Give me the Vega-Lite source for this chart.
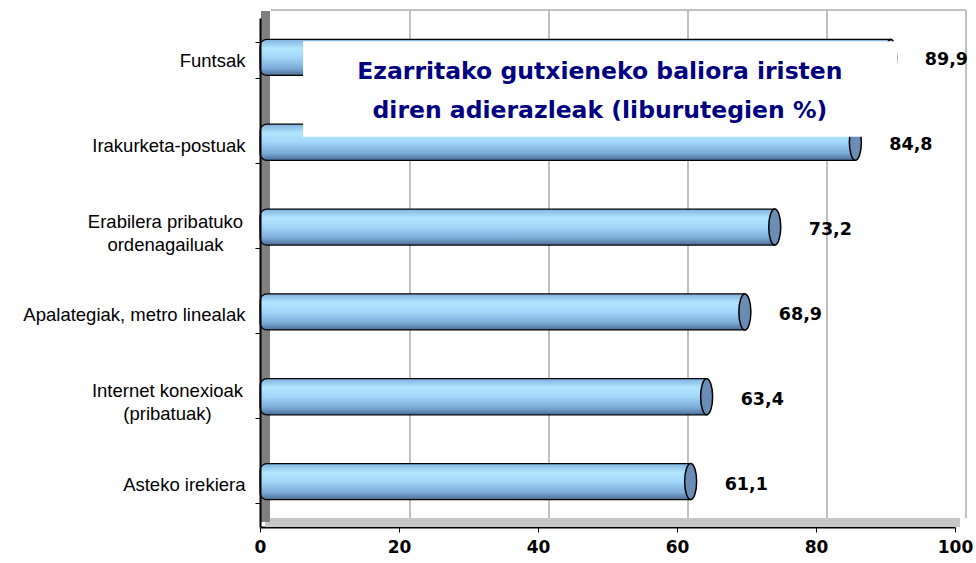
{
  "$schema": "https://vega.github.io/schema/vega-lite/v6.json",
  "width": 695,
  "height": 509,
  "autosize": {"type": "none"},
  "padding": {"left": 260, "top": 18, "right": 21, "bottom": 36},
  "background": "white",
  "config": {
    "view": {"stroke": null},
    "locale": {"number": {"decimal": ",", "thousands": ".", "grouping": [3], "currency": ["", "€"]}},
    "axisX": {
      "title": null,
      "tickCount": 5,
      "labelFont": "DejaVu Sans",
      "labelFontWeight": "bold",
      "labelFontSize": 17,
      "labelColor": "black",
      "labelPadding": 7,
      "labelFlush": false,
      "labelOverlap": false,
      "tickSize": 5,
      "tickColor": "black",
      "domainColor": "black",
      "domainWidth": 2,
      "grid": false,
      "zindex": 1
    }
  },
  "resolve": {"scale": {"y": "independent"}, "axis": {"y": "independent"}},
  "layer": [
    {
      "layer": [
        {
          "data": {"values": [{}]},
          "mark": {"type": "rect", "fill": "#c6c6c6", "xOffset": 5, "x2Offset": 5, "y2Offset": -9},
          "encoding": {
            "x": {"datum": 0, "type": "quantitative", "scale": {"domain": [0, 100], "nice": false}},
            "x2": {"datum": 100},
            "y": {"datum": 0, "type": "quantitative", "scale": {"domain": [0, 6], "nice": false}, "axis": null},
            "y2": {"datum": 0}
          }
        },
        {
          "data": {"values": [{"g": 20}, {"g": 40}, {"g": 60}, {"g": 80}, {"g": 100}]},
          "mark": {"type": "rule", "color": "#c0c0c0", "strokeWidth": 2, "xOffset": 11, "yOffset": -9, "y2Offset": -8},
          "encoding": {
            "x": {"field": "g", "type": "quantitative"},
            "y": {"datum": 0, "type": "quantitative", "axis": null},
            "y2": {"datum": 6}
          }
        },
        {
          "data": {"values": [{}]},
          "mark": {"type": "rule", "color": "#c0c0c0", "strokeWidth": 2, "xOffset": 11, "x2Offset": 11, "yOffset": -8},
          "encoding": {
            "x": {"datum": 0, "type": "quantitative"},
            "x2": {"datum": 100},
            "y": {"datum": 6, "type": "quantitative", "axis": null}
          }
        },
        {
          "data": {"values": [{}]},
          "mark": {"type": "rect", "fill": "#7f7f7f", "xOffset": 1, "x2Offset": 10, "yOffset": -7, "y2Offset": -5},
          "encoding": {
            "x": {"datum": 0, "type": "quantitative"},
            "x2": {"datum": 0},
            "y": {"datum": 6, "type": "quantitative", "axis": null},
            "y2": {"datum": 0}
          }
        }
      ]
    },
    {
      "data": {
        "values": [
          {"cat": "Funtsak", "v": 89.9},
          {"cat": "Irakurketa-postuak", "v": 84.8},
          {"cat": "Erabilera pribatuko ordenagailuak", "v": 73.2},
          {"cat": "Apalategiak, metro linealak", "v": 68.9},
          {"cat": "Internet konexioak (pribatuak)", "v": 63.4},
          {"cat": "Asteko irekiera", "v": 61.1}
        ]
      },
      "encoding": {
        "y": {
          "field": "cat",
          "type": "nominal",
          "sort": null,
          "scale": {"paddingInner": 0.575, "paddingOuter": 0.2875},
          "axis": {
            "title": null,
            "labelFont": "Liberation Sans",
            "labelFontSize": 18.5,
            "labelColor": "black",
            "labelLimit": 300,
            "labelLineHeight": 23,
            "labelPadding": 10,
            "labelAlign": {"condition": {"test": "indexof(['Erabilera pribatuko ordenagailuak', 'Internet konexioak (pribatuak)'], datum.value) >= 0", "value": "center"}, "value": "right"},
            "labelOffset": {"condition": {"test": "indexof(['Erabilera pribatuko ordenagailuak', 'Internet konexioak (pribatuak)'], datum.value) >= 0", "value": -9}, "value": 0},
            "tickSize": 5,
            "tickColor": "black",
            "tickBand": "extent",
            "domainColor": "black",
            "domainWidth": 2,
            "zindex": 1,
            "labelExpr": "datum.value == 'Erabilera pribatuko ordenagailuak' ? ['Erabilera pribatuko', 'ordenagailuak'] : datum.value == 'Internet konexioak (pribatuak)' ? ['Internet konexioak', '(pribatuak)'] : datum.label",
            "encoding": {
              "labels": {
                "dx": {"condition": [{"test": "datum.value == 'Erabilera pribatuko ordenagailuak'", "value": -80}, {"test": "datum.value == 'Internet konexioak (pribatuak)'", "value": -78}], "value": 0}
              }
            }
          }
        }
      },
      "layer": [
        {
          "mark": {
            "type": "bar",
            "yOffset": -3,
            "xOffset": 6,
            "fill": {
              "gradient": "linear", "x1": 0, "y1": 0, "x2": 0, "y2": 1,
              "stops": [
                {"offset": 0, "color": "#7fb2de"},
                {"offset": 0.25, "color": "#b2e6ff"},
                {"offset": 0.5, "color": "#a2d6f8"},
                {"offset": 0.8, "color": "#7cacd8"},
                {"offset": 1, "color": "#4c6d96"}
              ]
            },
            "stroke": "black",
            "strokeWidth": 1.2,
            "cornerRadiusTopLeft": 7,
            "cornerRadiusBottomLeft": 7
          },
          "encoding": {
            "x": {"field": "v", "type": "quantitative", "scale": {"domain": [0, 100], "nice": false}},
            "x2": {"datum": 0}
          }
        },
        {
          "mark": {
            "type": "point",
            "shape": "M0,-1 C0.184,-1 0.333,-0.552 0.333,0 C0.333,0.552 0.184,1 0,1 C-0.184,1 -0.333,0.552 -0.333,0 C-0.333,-0.552 -0.184,-1 0,-1 Z",
            "size": 1296,
            "filled": true,
            "fill": "#6a8db5",
            "stroke": "black",
            "strokeWidth": 1.5,
            "opacity": 1,
            "yOffset": -3,
            "xOffset": 6
          },
          "encoding": {"x": {"field": "v", "type": "quantitative"}}
        },
        {
          "mark": {"type": "text", "align": "left", "baseline": "middle", "dx": 40, "font": "DejaVu Sans", "fontWeight": "bold", "fontSize": 17.5, "color": "black"},
          "encoding": {
            "x": {"field": "v", "type": "quantitative"},
            "text": {"field": "v", "type": "quantitative", "format": ".1f"}
          }
        }
      ]
    },
    {
      "data": {"values": [{}]},
      "layer": [
        {
          "mark": {"type": "rect", "fill": "white"},
          "encoding": {
            "x": {"datum": 6.2, "type": "quantitative"},
            "x2": {"datum": 91.7},
            "y": {"datum": 5.725, "type": "quantitative", "scale": {"domain": [0, 6], "nice": false}, "axis": null},
            "y2": {"datum": 4.6}
          }
        },
        {
          "mark": {
            "type": "text",
            "text": ["Ezarritako gutxieneko baliora iristen", "diren adierazleak (liburutegien %)"],
            "font": "DejaVu Sans",
            "fontWeight": "bold",
            "fontSize": 23.5,
            "color": "#000080",
            "lineHeight": 39,
            "align": "center",
            "baseline": "middle"
          },
          "encoding": {
            "x": {"datum": 48.9, "type": "quantitative"},
            "y": {"datum": 5.364, "type": "quantitative", "axis": null}
          }
        }
      ]
    }
  ]
}
